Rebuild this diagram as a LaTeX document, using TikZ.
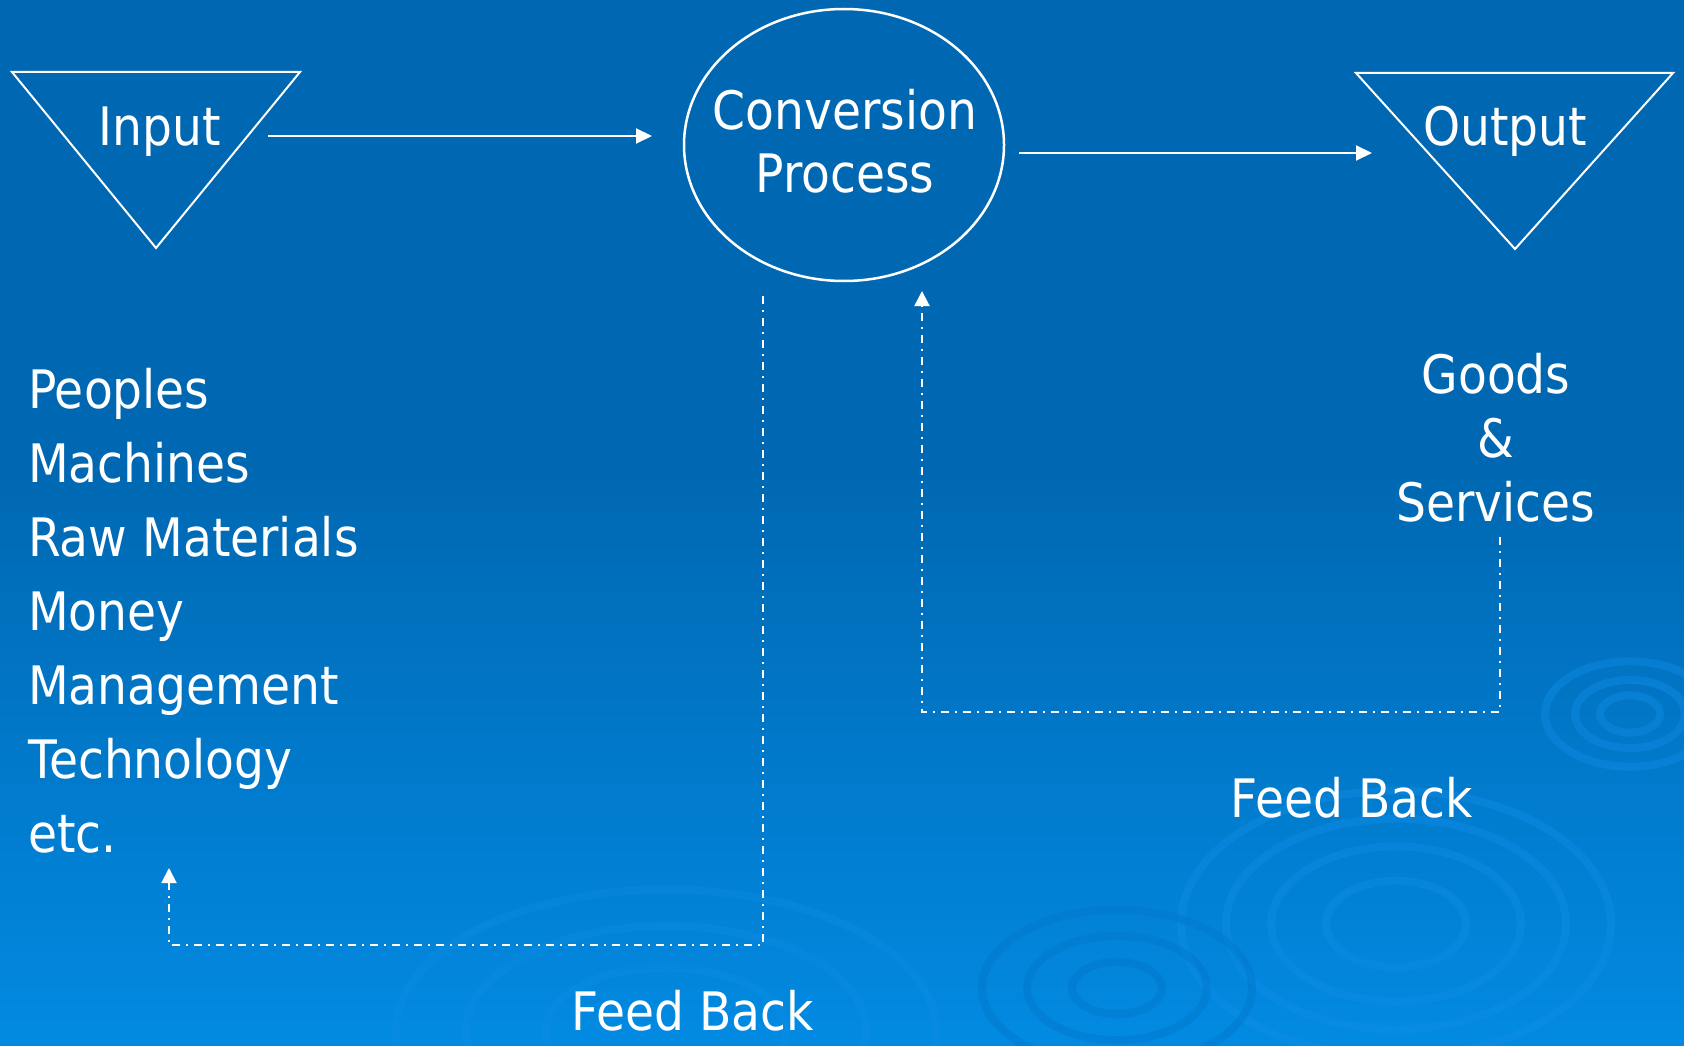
\documentclass[tikz,border=0pt]{standalone}
\usepackage{fontspec}
\setmainfont{DejaVu Sans}[FakeStretch=0.89]
\usetikzlibrary{shapes.geometric,arrows.meta}
\definecolor{bgtop}{RGB}{0,104,178}
\definecolor{bgbot}{RGB}{2,138,226}
\definecolor{ripplecol}{RGB}{16,142,232}
\definecolor{rippledark}{RGB}{0,116,200}
\begin{document}
\begin{tikzpicture}[x=1pt,y=-1pt,
  lbl/.style={text=white,font=\fontsize{53}{60}\selectfont,inner sep=0pt},
  shapeline/.style={draw=white,line width=2pt,line join=miter},
  flow/.style={white,line width=2pt,-{Triangle[length=16pt,width=15pt]}},
  fb/.style={white,line width=2pt,dash pattern=on 8pt off 6pt on 2pt off 6pt},
  fbarrow/.style={fb,-{Triangle[length=15pt,width=15pt]}},
  ripple/.style={draw=ripplecol,line width=8pt,opacity=0.4}]
\useasboundingbox (0,0) rectangle (1684,1046);
% background
\fill[bgtop] (0,0) rectangle (1684,1046);
\shade[top color=bgtop,bottom color=bgbot] (0,470) rectangle (1684,1046);
% ripples
\begin{scope}
\clip (0,0) rectangle (1684,1046);
\foreach \r in {70,125,170,215} \draw[ripple] (1396,924) ellipse ({\r} and {\r*0.62});
\foreach \r in {30,55,85} \draw[ripple] (1630,714) ellipse ({\r} and {\r*0.62});
\foreach \r in {45,90,135} \draw[ripple,draw=rippledark] (1117,988) ellipse ({\r} and {\r*0.58});
\foreach \r in {120,200,270} \draw[ripple,opacity=0.3] (666,1030) ellipse ({\r} and {\r*0.52});
\end{scope}
% input
\draw[shapeline] (12,72) -- (300,72) -- (156,248) -- cycle;
\node[lbl,anchor=base] (input) at (160,146) {Input};
% output
\draw[shapeline] (1356,73) -- (1673,73) -- (1515,249) -- cycle;
\node[lbl,anchor=base] (output) at (1505,146) {Output};
% conversion
\node[ellipse,draw=white,line width=2.5pt,minimum width=320pt,minimum height=272pt,inner sep=0pt] (conv) at (844,145) {};
\node[lbl,anchor=base] (conv1) at (845,130) {Conversion};
\node[lbl,anchor=base] (conv2) at (845,193) {Process};
% main arrows
\coordinate (a1) at (268,136);
\coordinate (a2) at (652,136);
\coordinate (b1) at (1019,153);
\coordinate (b2) at (1372,153);
\draw[flow] (a1) -- (a2);
\draw[flow] (b1) -- (b2);
% input list
\foreach \t [count=\i] in {Peoples,Machines,Raw Materials,Money,Management,Technology,etc.}
  \node[lbl,anchor=base west] (in\i) at (28,{408+74*(\i-1)}) {\t};
% output list
\node[lbl,anchor=base] (goods) at (1496,393) {Goods};
\node[lbl,anchor=base] (amp) at (1496,457) {\&};
\node[lbl,anchor=base] (serv) at (1496,521) {Services};
% feedback loops
\coordinate (f1) at (763,296);
\coordinate (f2) at (763,945);
\coordinate (f3) at (169,945);
\coordinate (f4) at (169,868);
\draw[fbarrow] (f1) -- (f2) -- (f3) -- (f4);
\coordinate (g1) at (1500,537);
\coordinate (g2) at (1500,712);
\coordinate (g3) at (922,712);
\coordinate (g4) at (922,291);
\draw[fbarrow] (g1) -- (g2) -- (g3) -- (g4);
\node[lbl,anchor=base] (fbr) at (1352,817) {Feed Back};
\node[lbl,anchor=base] (fbl) at (693,1030) {Feed Back};
\end{tikzpicture}
\end{document}
